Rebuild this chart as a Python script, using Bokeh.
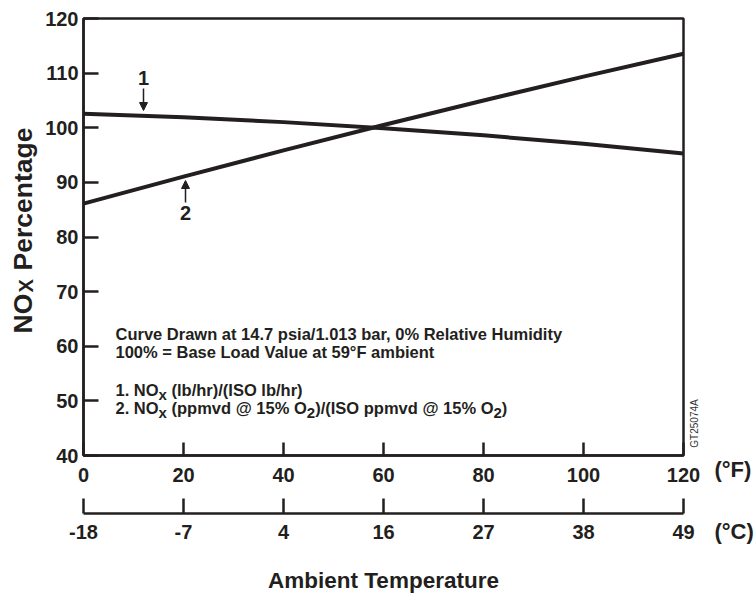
import math
from bokeh.plotting import figure
from bokeh.models import Range1d, LinearAxis, FixedTicker, Label, Arrow, NormalHead, BoxAnnotation
from bokeh.embed import file_html
from bokeh.resources import INLINE

# ---------------- data ----------------
temp_f = [0, 20, 40, 60, 80, 100, 120]
nox_lb_hr = [102.55, 101.9, 101.03, 99.93, 98.61, 97.07, 95.3]
nox_ppmvd = [86.1, 91.05, 95.85, 100.5, 105.0, 109.35, 113.55]
f_ticks = [0, 20, 40, 60, 80, 100, 120]
c_tick_labels = ["-18", "-7", "4", "16", "27", "38", "49"]
y_ticks = [40, 50, 60, 70, 80, 90, 100, 110, 120]
X_MIN, X_MAX = 0, 120
Y_MIN, Y_MAX = 40, 120

INK = "#231f20"
FONT = "Liberation Sans"

# page geometry: plot box spans x 83..683 px, y 18..455 px
W_PX, H_PX = 756, 595
BOX_L, BOX_R, BOX_T, BOX_B = 83, 683, 18, 455
SX = (BOX_R - BOX_L) / (X_MAX - X_MIN)
SY = (BOX_B - BOX_T) / (Y_MAX - Y_MIN)

def px2x(px):
    return X_MIN + (px - BOX_L) / SX

def py2y(py):
    return Y_MIN + (BOX_B - py) / SY

p = figure(width=W_PX, height=H_PX,
           x_range=Range1d(px2x(0), px2x(W_PX)), y_range=Range1d(py2y(H_PX), py2y(0)),
           output_backend="svg", toolbar_location=None,
           x_axis_location=None, y_axis_location=None,
           min_border=0, min_border_left=0, min_border_right=0,
           min_border_top=0, min_border_bottom=0)
p.grid.visible = False
p.outline_line_color = None
p.background_fill_color = "white"
p.border_fill_color = "white"

def style_axis(ax):
    ax.axis_line_color = INK
    ax.axis_line_width = 2.5
    ax.major_tick_line_color = INK
    ax.major_tick_line_width = 2.5
    ax.minor_tick_line_color = None
    ax.major_tick_out = 0
    ax.major_label_text_font = FONT
    ax.major_label_text_font_style = "bold"
    ax.major_label_text_font_size = "20px"
    ax.major_label_text_color = INK
    ax.axis_label_text_font = FONT
    ax.axis_label_text_font_style = "bold"
    ax.axis_label_text_color = INK

# plot box
p.add_layout(BoxAnnotation(left=X_MIN, right=X_MAX, bottom=Y_MIN, top=Y_MAX,
                           fill_alpha=0, line_color=INK, line_alpha=1.0, line_width=2.5))

yax = LinearAxis(ticker=FixedTicker(ticks=y_ticks), fixed_location=X_MIN, bounds=(Y_MIN, Y_MAX))
style_axis(yax)
yax.major_tick_in = 15
yax.major_label_standoff = 5
p.add_layout(yax, "left")

fax = LinearAxis(ticker=FixedTicker(ticks=f_ticks), fixed_location=Y_MIN, bounds=(X_MIN, X_MAX))
style_axis(fax)
fax.major_tick_in = 13
fax.major_label_standoff = 12
p.add_layout(fax, "below")

cax = LinearAxis(ticker=FixedTicker(ticks=f_ticks), fixed_location=py2y(513),
                 bounds=(X_MIN, X_MAX), axis_label="Ambient Temperature",
                 major_label_overrides={t: s for t, s in zip(f_ticks, c_tick_labels)})
style_axis(cax)
cax.major_tick_in = 15
cax.major_label_standoff = 11
cax.axis_label_text_font_size = "22.5px"
cax.axis_label_standoff = 26
p.add_layout(cax, "below")

# curves
p.line(temp_f, nox_lb_hr, line_color=INK, line_width=4, line_join="round")
p.line(temp_f, nox_ppmvd, line_color=INK, line_width=4, line_join="round")

# ---------------- text helpers ----------------
CW = {' ': 278, '(': 333, ')': 333, '.': 278, ',': 278, '/': 278, '%': 889, '=': 584,
      '@': 975, '°': 400, '-': 333}
for ch in "0123456789":
    CW[ch] = 556
CW.update({'A': 722, 'B': 722, 'C': 722, 'D': 722, 'E': 667, 'F': 611, 'G': 778, 'H': 722,
           'I': 278, 'L': 611, 'N': 722, 'O': 778, 'P': 667, 'R': 722, 'S': 667, 'T': 611,
           'V': 667, 'X': 667,
           'a': 556, 'b': 611, 'c': 556, 'd': 611, 'e': 556, 'g': 611, 'h': 611, 'i': 278,
           'l': 278, 'm': 889, 'n': 611, 'o': 611, 'p': 611, 'r': 389, 's': 556, 't': 333,
           'u': 611, 'v': 556, 'w': 778, 'x': 556, 'y': 556})

def tw(s, size):
    return sum(CW.get(c, 556) for c in s) / 1000.0 * size

def add_label(px, py, text, size, bold=True, align="left", baseline="alphabetic", angle=0.0,
              color=INK):
    if baseline == "alphabetic":
        py = py - 0.4 * size   # empirical offset of the rendered baseline
    p.add_layout(Label(x=px2x(px), y=py2y(py), text=text, text_font=FONT,
                       text_font_size=f"{size}px",
                       text_font_style="bold" if bold else "normal",
                       text_align=align, text_baseline=baseline, angle=angle,
                       text_color=color))

def rich_line(parts, x0, base, size=16.5, sub_size=15, drop=4):
    x = x0
    for txt, sub in parts:
        fs = sub_size if sub else size
        while txt.startswith(" "):
            x += tw(" ", fs)
            txt = txt[1:]
        add_label(x, base + (drop if sub else 0), txt, fs)
        x += tw(txt, fs)

# text block
rich_line([("Curve Drawn at 14.7 psia/1.013 bar, 0% Relative Humidity", False)], 115, 340)
rich_line([("100% = Base Load Value at 59°F ambient", False)], 115, 358)
rich_line([("1. NO", False), ("x", True), (" (lb/hr)/(ISO lb/hr)", False)], 115, 396)
rich_line([("2. NO", False), ("x", True), (" (ppmvd @ 15% O", False), ("2", True),
           (")/(ISO ppmvd @ 15% O", False), ("2", True), (")", False)], 115, 414)

# curve callouts
add_label(143, 85, "1", 20, align="center")
add_label(185, 220, "2", 20, align="center")
p.add_layout(Arrow(end=NormalHead(size=8, fill_color=INK, line_color=INK),
                   x_start=px2x(143), y_start=py2y(88), x_end=px2x(143), y_end=py2y(110),
                   line_color=INK, line_width=1.5))
p.add_layout(Arrow(end=NormalHead(size=8, fill_color=INK, line_color=INK),
                   x_start=px2x(185), y_start=py2y(202), x_end=px2x(185), y_end=py2y(180),
                   line_color=INK, line_width=1.5))

# unit labels
add_label(714, 478, "(°F)", 22)
add_label(714, 540, "(°C)", 22)

# y axis title: NO_X Percentage (rotated)
add_label(22, 333, "NO", 26.5, baseline="middle", angle=math.pi / 2)
add_label(25.5, 292, "X", 20, baseline="middle", angle=math.pi / 2)
add_label(22, 270, "Percentage", 26.5, baseline="middle", angle=math.pi / 2)

# figure id
add_label(694, 423, "GT25074A", 10, bold=False, align="center", baseline="middle",
          angle=math.pi / 2, color="#333333")

open("out.html", "w").write(file_html(p, INLINE))
